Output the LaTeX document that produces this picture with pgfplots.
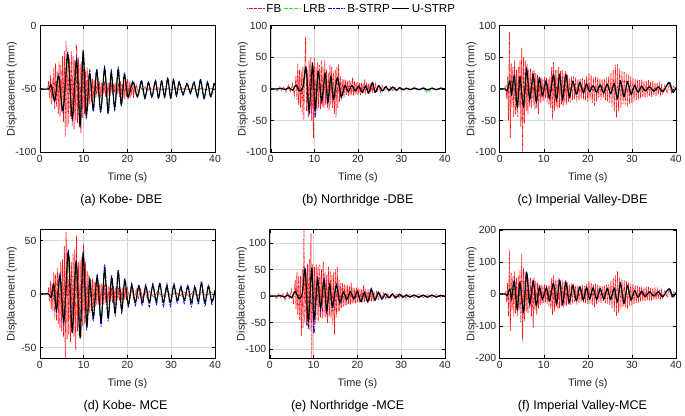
\documentclass[border=0pt]{standalone}
\usepackage{fontspec}
\setmainfont{Liberation Sans}
\usepackage{pgfplots}
\usepackage{pgfplotstable}
\pgfplotsset{compat=1.18}

% ---------- (a) Kobe DBE ----------
\pgfplotstableread{
t U B L
0 -50 -50 -50
2.0 -50 -50 -50
2.6 -47 -46 -47
3.4 -59 -60 -58
4.3 -40 -38 -41
5.3 -67 -69 -65
6.4 -23 -21 -27
7.4 -73 -75 -70
8.4 -27 -25 -30
9.2 -79 -80 -75
9.9 -21 -19 -25
10.6 -71 -73 -68
11.4 -38 -35 -40
12.2 -66 -68 -64
13.0 -36 -34 -39
13.9 -67 -69 -65
14.8 -34 -32 -37
15.6 -68 -70 -66
16.3 -37 -35 -40
17.1 -65 -67 -63
17.9 -35 -33 -38
18.6 -62 -64 -60
19.3 -39 -37 -41
20.1 -56 -57 -55
20.8 -49 -48 -47
21.4 -45 -44 -46
22.3 -56 -57 -55
23.2 -44 -43 -45
24.0 -57 -58 -56
24.8 -45 -44 -46
25.6 -56 -57 -55
26.4 -44 -43 -45
27.1 -57 -58 -56
27.8 -44 -43 -45
28.5 -56 -57 -55
29.2 -42 -41 -44
29.9 -57 -58 -56
30.5 -43 -42 -45
31.2 -55 -56 -54
31.8 -45 -44 -46
32.7 -54 -55 -53
33.6 -46 -45 -47
34.4 -53 -54 -52
35.2 -45 -44 -46
36.0 -56 -57 -55
36.7 -43 -42 -45
37.5 -57 -58 -56
38.3 -45 -44 -46
39.0 -56 -57 -55
39.8 -46 -45 -47
40.0 -47 -46 -48
}\tabAs
\pgfplotstableread{
t F
0 -50
1.0 -50
1.8 -50
2.0 -44
2.2 -57
2.4 -39
2.6 -62
2.8 -42
3.0 -60
3.2 -33
3.4 -66
3.6 -30
3.8 -64
4.0 -36
4.2 -70
4.4 -28
4.6 -72
4.8 -31
5.0 -68
5.2 -24
5.4 -76
5.6 -20
5.8 -88
6.0 -12
6.2 -80
6.4 -22
6.6 -78
6.8 -26
7.0 -72
7.2 -20
7.4 -79
7.6 -24
7.8 -82
8.0 -27
8.2 -75
8.4 -15
8.6 -77
8.8 -25
9.0 -80
9.2 -30
9.4 -85
9.6 -28
9.8 -73
10.0 -32
10.2 -70
10.4 -35
10.6 -66
10.8 -33
11.0 -64
11.2 -38
11.4 -62
11.6 -40
11.8 -60
12.0 -42
12.2 -58
12.4 -43
12.6 -57
12.8 -44
13.0 -56
13.2 -45
13.4 -55
13.6 -44
13.8 -57
14.0 -45
14.2 -55
14.4 -46
14.6 -54
14.8 -44
15.0 -56
15.2 -46
15.4 -54
15.6 -45
15.8 -55
16.0 -46
16.2 -53
16.4 -47
16.6 -54
16.8 -46
17.0 -53
17.2 -45
17.4 -55
17.6 -46
17.8 -54
18.0 -45
18.2 -56
18.4 -44
18.6 -55
18.8 -46
19.0 -57
19.2 -43
19.4 -58
19.6 -44
19.8 -56
20.0 -42
20.2 -58
20.4 -44
20.6 -57
20.8 -45
21.0 -55
21.2 -43
21.4 -57
21.6 -46
21.8 -54
22.0 -47
22.5 -53
23.0 -48
23.5 -52
24.0 -48
24.5 -52
25.0 -49
26 -51
27 -49
28 -51
29 -49.5
30 -50.5
31 -49.5
32 -50.5
33 -49.5
34 -50.5
35 -49.5
36 -50.5
37 -49.5
38 -50.5
39 -49.5
40 -50
}\tabAf

% ---------- (b) Northridge DBE ----------
\pgfplotstableread{
t U B L
0 0 0 0
1.5 0 0 0
2.5 1 1 1
3.3 -1 -1 -1
4.2 2 2 1
5.0 -2 -2 -2
5.8 6 6 5
6.6 -3 -4 -3
7.4 3 4 2
8.1 33 35 28
8.8 -34 -40 -30
9.6 38 40 33
10.2 -32 -43 -28
10.9 27 30 24
11.7 -18 -22 -16
12.5 24 26 21
13.1 -20 -24 -18
13.8 19 21 17
14.4 -15 -18 -13
15.3 17 19 15
16.2 -12 -14 -10
17.0 5 6 4
17.8 -4 -5 -3
18.6 5 6 4
19.4 -3 -4 -3
20.2 4 5 3
21.0 -5 -6 -4
21.8 4 5 4
22.5 -6 -7 -5
23.3 9 10 8
24.0 -5 -6 -4
24.8 5 6 4
25.6 -3 -4 -3
26.4 3 4 3
27.2 -2 -3 -2
28.0 3 3 2
28.8 -2 -2 -2
29.6 2 2 2
30.4 -1 -2 -1
31.2 1 1 1
32.0 -1 -1 -1
33 1 1 1
34 -1 -1 -1
35 1 1 1
36 -1 -2 -6
37 1 1 1
38 -1 -1 -1
39 1 1 1
40 0 0 0
}\tabBs
\pgfplotstableread{
t F
0 0
1.0 1
1.5 -3
2.0 4
2.5 -2
3.0 3
3.5 -5
4.0 6
4.5 -4
5.0 8
5.4 -10
5.8 20
6.0 -18
6.2 40
6.4 -25
6.6 30
6.8 -30
7.0 28
7.2 -40
7.4 35
7.6 -50
7.8 30
8.0 82
8.2 -35
8.4 30
8.6 -45
8.8 45
9.0 -40
9.2 50
9.4 -50
9.6 40
9.8 -78
10.0 50
10.2 -45
10.4 35
10.6 -35
10.8 42
11.0 -30
11.2 38
11.4 -32
11.6 45
11.8 -28
12.0 35
12.2 -30
12.4 45
12.6 -25
12.8 30
13.0 -30
13.2 25
13.4 -35
13.6 38
13.8 -25
14.0 35
14.2 -30
14.4 28
14.6 -40
14.8 30
15.0 -45
15.2 35
15.4 -30
15.6 40
15.8 -20
16.0 20
16.2 -18
16.4 15
16.6 -14
16.8 15
17.0 -12
17.2 14
17.4 -10
17.6 12
17.8 -11
18.0 14
18.2 -10
18.4 12
18.6 -9
18.8 18
19.0 -10
19.2 12
19.4 -8
19.6 10
19.8 -9
20.0 11
20.2 -8
20.4 9
20.6 -10
20.8 10
21.0 -7
21.2 9
21.4 -8
21.6 15
21.8 -9
22.0 10
22.2 -7
22.4 8
22.6 -8
22.8 9
23.0 -6
23.2 10
23.4 -7
23.6 7
23.8 -6
24.0 8
24.4 -5
24.8 6
25.2 -5
25.6 5
26.0 -4
26.5 4
27.0 -4
27.5 3
28.0 -3
28.5 3
29.0 -3
29.5 2
30 -2
31 2
32 -2
33 3
34 -2
35 3
36 -3
37 2
38 -2
39 2
40 0
}\tabBf

% ---------- (c) Imperial Valley DBE ----------
\pgfplotstableread{
t U B L
0 0 0 0
1.2 0 0 0
1.7 -3 -3 -2
2.3 12 13 15
2.7 -8 -10 -12
3.3 20 22 18
4.0 -28 -30 -26
4.6 18 20 16
5.4 -28 -30 -25
6.1 30 33 28
6.8 -16 -18 -14
7.6 22 23 20
8.3 -20 -22 -18
9.0 17 18 15
9.7 -10 -12 -9
10.5 12 13 11
11.3 -14 -15 -12
12.2 22 23 19
12.9 -18 -20 -16
13.6 22 23 20
14.3 -16 -18 -15
15.0 22 24 20
15.8 -12 -14 -11
16.6 12 13 11
17.4 -8 -10 -7
18.2 10 11 9
19.0 -6 -7 -5
19.7 8 9 7
20.4 -4 -5 -4
21.2 5 6 4
22.0 -5 -6 -4
22.8 6 7 5
23.6 -6 -7 -5
24.4 7 8 6
25.2 -7 -8 -6
26.0 8 9 7
26.7 -15 -16 -13
27.4 12 13 11
28.2 -12 -13 -11
29.0 11 12 10
29.8 -8 -9 -7
30.6 5 6 5
31.4 -5 -6 -4
32.2 4 5 4
33.0 -3 -4 -3
34.0 3 4 3
35.0 -3 -4 -3
36.0 3 3 3
37.0 -4 -5 -4
38.0 6 7 6
38.6 10 11 9
39.3 -5 -6 -4
40 2 2 2
}\tabCs
\pgfplotstableread{
t F
0 0
1.0 0
1.4 5
1.6 -15
1.8 20
2.0 -50
2.2 90
2.4 -78
2.6 40
2.8 -30
3.0 35
3.2 -45
3.4 45
3.6 -40
3.8 30
4.0 -45
4.2 35
4.4 -30
4.6 45
4.8 -60
5.0 65
5.2 -100
5.4 50
5.6 -55
5.8 45
6.0 -35
6.2 40
6.4 -40
6.6 30
6.8 -28
7.0 32
7.2 -30
7.4 28
7.6 -25
7.8 30
8.0 -32
8.2 25
8.4 -30
8.6 22
8.8 -40
9.0 20
9.2 -22
9.4 18
9.6 -20
9.8 15
10.0 -18
10.2 20
10.4 -15
10.6 18
10.8 -20
11.0 15
11.2 -25
11.4 20
11.6 -30
11.8 35
12.0 -48
12.2 42
12.4 -35
12.6 30
12.8 -28
13.0 30
13.2 -32
13.4 35
13.6 -30
13.8 28
14.0 -25
14.2 30
14.4 -28
14.6 25
14.8 -22
15.0 28
15.2 -25
15.4 22
15.6 -20
15.8 18
16.0 -22
16.25 20
16.5 -18
16.75 20
17.0 -16
17.25 18
17.5 -20
17.75 15
18.0 -18
18.25 16
18.5 -15
18.75 18
19.0 -16
19.25 15
19.5 -18
19.75 20
20.0 -20
20.25 25
20.5 -18
20.75 22
21.0 -22
21.25 18
21.5 -27
21.75 20
22.0 -20
22.25 18
22.5 -15
22.75 16
23.0 -18
23.25 15
23.5 -14
23.75 16
24.0 -18
24.25 18
24.5 -20
24.75 20
25.0 -22
25.25 25
25.5 -28
25.75 30
26.0 -35
26.25 38
26.5 -45
26.75 40
27.0 -35
27.25 32
27.5 -30
27.75 28
28.0 -25
28.25 27
28.5 -26
28.75 25
29.0 -28
29.25 22
29.5 -24
29.75 20
30.0 -22
30.25 18
30.5 -20
30.75 16
31.0 -18
31.25 15
31.5 -16
31.75 14
32.0 -15
32.25 15
32.5 -13
32.75 12
33.0 -14
33.25 13
33.5 -12
33.75 14
34.0 -12
34.25 11
34.5 -13
34.75 12
35.0 -10
35.25 10
35.5 -11
35.75 9
36.0 -9
36.25 8
36.5 -8
36.75 7
37.0 -7
37.5 6
38.0 -6
38.5 8
39.0 -6
39.5 5
40.0 -2
}\tabCf

% ---------- (d) Kobe MCE ----------
\pgfplotstableread{
t U B L
0 0 0 0
2.0 0 0 0
2.6 -3 -3 -3
3.2 9 10 8
3.8 -15 -17 -13
4.6 17 19 15
5.5 -25 -28 -22
6.5 38 42 30
7.4 -35 -37 -30
8.3 30 32 26
9.2 -40 -42 -35
9.9 38 40 32
10.7 -30 -33 -26
11.4 12 14 15
12.2 -22 -25 -22
13.1 16 18 14
14.0 -25 -30 -22
14.8 23 28 20
15.6 -22 -25 -19
16.4 15 18 13
17.2 -18 -20 -16
17.9 20 23 17
18.7 -15 -18 -13
19.4 13 15 11
20.2 -10 -12 -9
21.0 8 10 7
21.8 -8 -11 -7
22.6 7 9 6
23.4 -8 -11 -7
24.2 7 9 6
25.0 -8 -12 -7
25.8 8 10 7
26.6 -7 -10 -6
27.4 9 11 8
28.2 -8 -12 -7
29.0 7 10 6
29.8 -8 -12 -7
30.6 8 10 7
31.4 -6 -9 -5
32.2 6 8 5
33.0 -6 -9 -5
33.8 7 9 6
34.6 -8 -12 -7
35.4 6 8 5
36.2 -7 -10 -6
36.9 10 12 8
37.7 -8 -11 -7
38.5 7 9 6
39.3 -7 -10 -6
40 3 4 3
}\tabDs
\pgfplotstableread{
t F
0 0
1.8 0
2.0 6
2.2 -8
2.4 12
2.6 -14
2.8 10
3.0 -16
3.2 20
3.4 -22
3.6 18
3.8 -25
4.0 24
4.2 -28
4.4 20
4.6 -32
4.8 30
5.0 -35
5.2 32
5.4 -40
5.6 45
5.8 -60
6.0 58
6.2 -42
6.4 40
6.6 -38
6.8 35
7.0 -45
7.2 30
7.4 -35
7.6 38
7.8 -40
8.0 42
8.2 -52
8.4 55
8.6 -35
8.8 30
9.0 -38
9.2 32
9.4 -40
9.6 35
9.8 -30
10.0 47
10.2 -28
10.4 30
10.6 -25
10.8 22
11.0 -20
11.2 18
11.4 -18
11.6 15
11.8 -16
12.0 14
12.2 -13
12.4 12
12.6 -12
12.8 11
13.0 -10
13.2 12
13.4 -10
13.6 9
13.8 -11
14.0 10
14.2 -9
14.4 8
14.6 -10
14.8 9
15.0 -8
15.2 8
15.4 -9
15.6 7
15.8 -8
16.0 7
16.2 -7
16.4 6
16.6 -8
16.8 7
17.0 -6
17.2 6
17.4 -7
17.6 6
17.8 -6
18.0 7
18.2 -6
18.4 5
18.6 -6
18.8 6
19.0 -7
19.2 5
19.4 -5
19.6 6
19.8 -6
20.0 5
20.5 -5
21.0 5
21.5 -6
22.0 4
22.5 -5
23.0 4
23.5 -4
24.0 4
24.5 -4
25.0 3
26 -3
27 3
28 -3
29 3
30 -2
31 2
32 -2
33 2
34 -2
35 2
36 -2
37 2
38 -2
39 2
40 0
}\tabDf

% ---------- (e) Northridge MCE ----------
\pgfplotstableread{
t U B L
0 0 0 0
1.5 0 0 0
2.5 1 1 1
3.3 -2 -2 -1
4.2 2 3 2
5.0 -3 -3 -2
5.8 9 9 7
6.6 -4 -5 -4
7.4 4 5 3
8.1 50 52 42
8.8 -48 -62 -40
9.6 52 54 45
10.1 -45 -70 -40
10.9 32 36 28
11.6 -22 -28 -20
12.4 30 33 26
13.0 -28 -32 -24
13.7 22 25 20
14.3 -20 -24 -17
15.2 20 23 18
16.0 -12 -15 -10
16.8 7 8 6
17.6 -6 -8 -5
18.4 8 9 7
19.2 -5 -7 -4
20.0 8 10 6
20.8 -10 -12 -8
21.6 6 8 5
22.4 -10 -12 -8
23.2 12 15 10
24.0 -7 -9 -6
24.8 6 8 5
25.6 -5 -6 -4
26.4 4 5 3
27.2 -3 -4 -3
28.0 4 5 3
28.8 -3 -4 -3
29.6 3 4 3
30.4 -2 -3 -2
31.2 2 3 2
32.0 -2 -2 -2
33 2 3 2
34 -2 -3 -2
35 2 2 2
36 -2 -3 -2
37 2 2 2
38 -2 -2 -2
39 1 2 1
40 0 0 0
}\tabEs
\pgfplotstableread{
t F
0 0
1.0 2
1.5 -4
2.0 5
2.5 -3
3.0 5
3.5 -7
4.0 8
4.5 -6
5.0 12
5.4 -15
5.8 30
6.0 -25
6.2 45
6.4 -35
6.6 40
6.8 -45
7.0 38
7.2 -75
7.4 50
7.6 -60
7.8 125
8.0 -50
8.2 45
8.4 -55
8.6 60
8.8 -50
9.0 70
9.2 -65
9.4 118
9.6 -117
9.8 60
10.0 -70
10.2 55
10.4 -50
10.6 60
10.8 -45
11.0 55
11.2 -48
11.4 60
11.6 -40
11.8 50
12.0 -42
12.2 65
12.4 -38
12.6 45
12.8 -40
13.0 40
13.2 -50
13.4 55
13.6 -38
13.8 48
14.0 -42
14.2 40
14.4 -55
14.6 45
14.8 -72
15.0 50
15.2 -40
15.4 55
15.6 -30
15.8 30
16.0 -28
16.2 25
16.4 -22
16.6 24
16.8 -20
17.0 22
17.2 -18
17.4 20
17.6 -17
17.8 21
18.0 -15
18.2 18
18.4 -16
18.6 25
18.8 -14
19.0 16
19.2 -13
19.4 15
19.6 -14
19.8 16
20.0 -12
20.2 14
20.4 -13
20.6 14
20.8 -11
21.0 13
21.2 -12
21.4 20
21.6 -12
21.8 14
22.0 -10
22.2 12
22.4 -11
22.6 12
22.8 -9
23.0 13
23.2 -10
23.4 11
23.6 -9
23.8 10
24.0 -8
24.4 8
24.8 -7
25.2 7
25.6 -6
26.0 6
26.5 -5
27.0 5
27.5 -4
28.0 4
28.5 -4
29.0 4
29.5 -3
30 3
31 -3
32 3
33 -3
34 4
35 -3
36 3
37 -3
38 3
39 -2
40 0
}\tabEf

% ---------- (f) Imperial Valley MCE ----------
\pgfplotstableread{
t U B L
0 0 0 0
1.2 0 0 0
1.7 -5 -5 -4
2.3 15 17 20
2.7 -15 -18 -20
3.3 40 45 35
4.0 -48 -52 -45
4.6 35 38 30
5.4 -55 -60 -50
6.1 65 70 60
6.8 -30 -35 -28
7.6 38 42 34
8.3 -35 -38 -32
9.0 20 22 18
9.7 -15 -18 -13
10.6 18 20 16
11.3 -20 -22 -18
12.2 32 35 28
12.9 -30 -33 -27
13.6 40 43 36
14.3 -30 -33 -27
15.0 36 39 32
15.8 -25 -28 -22
16.6 26 28 23
17.4 -20 -23 -18
18.2 22 24 20
19.0 -18 -20 -16
19.7 20 22 18
20.4 -15 -18 -13
21.2 18 20 16
22.0 -16 -19 -14
22.8 16 18 14
23.6 -15 -18 -13
24.4 16 18 14
25.2 -15 -18 -13
26.0 18 20 16
26.7 -25 -28 -22
27.4 32 35 28
28.2 -28 -30 -25
29.0 25 27 22
29.8 -18 -20 -16
30.6 10 12 9
31.4 -10 -12 -9
32.2 8 10 7
33.0 -8 -10 -7
34.0 6 8 5
35.0 -6 -8 -5
36.0 6 7 5
37.0 -8 -10 -7
38.0 10 12 9
38.6 15 17 13
39.3 -8 -10 -7
40 4 5 4
}\tabFs
\pgfplotstableread{
t F
0 0
1.0 0
1.4 8
1.6 -25
1.8 35
2.0 -70
2.2 135
2.4 -115
2.6 65
2.8 -50
3.0 55
3.2 -70
3.4 70
3.6 -60
3.8 50
4.0 -70
4.2 55
4.4 -50
4.6 75
4.8 -90
5.0 125
5.2 -145
5.4 80
5.6 -85
5.8 70
6.0 -55
6.2 65
6.4 -60
6.6 50
6.8 -45
7.0 50
7.2 -70
7.4 45
7.6 -105
7.8 50
8.0 -50
8.2 40
8.4 -65
8.6 35
8.8 -45
9.0 30
9.2 -35
9.4 28
9.6 -30
9.8 25
10.0 -28
10.2 30
10.4 -25
10.6 28
10.8 -30
11.0 25
11.2 -38
11.4 30
11.6 -45
11.8 50
12.0 -65
12.2 60
12.4 -55
12.6 45
12.8 -42
13.0 45
13.2 -48
13.4 52
13.6 -45
13.8 42
14.0 -38
14.2 45
14.4 -42
14.6 38
14.8 -35
15.0 42
15.2 -38
15.4 35
15.6 -32
15.8 30
16.0 -35
16.25 32
16.5 -30
16.75 32
17.0 -26
17.25 28
17.5 -32
17.75 25
18.0 -28
18.25 26
18.5 -24
18.75 28
19.0 -26
19.25 25
19.5 -28
19.75 32
20.0 -32
20.25 40
20.5 -30
20.75 35
21.0 -35
21.25 30
21.5 -42
21.75 32
22.0 -32
22.25 28
22.5 -25
22.75 26
23.0 -28
23.25 24
23.5 -22
23.75 26
24.0 -28
24.25 28
24.5 -30
24.75 32
25.0 -35
25.25 40
25.5 -45
25.75 50
26.0 -55
26.25 60
26.5 -68
26.75 70
27.0 -60
27.25 52
27.5 -48
27.75 45
28.0 -40
28.25 42
28.5 -42
28.75 40
29.0 -45
29.25 35
29.5 -38
29.75 32
30.0 -35
30.25 30
30.5 -32
30.75 26
31.0 -28
31.25 25
31.5 -26
31.75 22
32.0 -24
32.25 24
32.5 -22
32.75 20
33.0 -22
33.25 21
33.5 -20
33.75 22
34.0 -20
34.25 18
34.5 -21
34.75 20
35.0 -17
35.25 16
35.5 -18
35.75 15
36.0 -15
36.25 13
36.5 -13
36.75 12
37.0 -12
37.5 10
38.0 -10
38.5 14
39.0 -10
39.5 8
40.0 -3
}\tabFf

\pgfplotsset{
  panel/.style={
    scale only axis,
    xmin=0, xmax=40,
    xtick={0,10,20,30,40},
    grid=major,
    major grid style={black!16, line width=0.5pt},
    tick align=inside,
    major tick length=3bp,
    tick style={black, line width=0.5pt},
    axis line style={black, line width=0.6pt},
    ticklabel style={font=\fontsize{10.5}{12}\selectfont, text=black!85},
    /pgf/number format/assume math mode=true,
    xlabel={Time (s)},
    ylabel={Displacement (mm)},
    label style={font=\fontsize{11}{13}\selectfont, text=black!85},
    xlabel style={at={(axis description cs:0.5,-0.205)}, anchor=center},
    ylabel style={at={(axis description cs:-0.16,0.5)}, anchor=center},
    title style={font=\fontsize{12.7}{14}\selectfont, anchor=center},
  },
  fb/.style={red, line width=0.7pt, dash pattern=on 0.7pt off 0.6pt},
  lrb/.style={green, line width=0.8pt, dash pattern=on 3.5pt off 2pt},
  bs/.style={blue, line width=0.8pt, dash pattern=on 4pt off 1.5pt on 1pt off 1.5pt},
  us/.style={black, line width=1.1pt},
}

\begin{document}
\begin{tikzpicture}
\path (0,0) rectangle (685bp,-414bp);

% (a)
\begin{axis}[panel, at={(40bp,-151bp)}, width=176bp, height=127bp,
  ymin=-100, ymax=0, ytick={-100,-50,0},
  title={(a) Kobe- DBE}, title style={at={(axis description cs:0.465,-0.43)}}]
\addplot[fb] table[x=t,y=F] {\tabAf};
\addplot[lrb, smooth] table[x=t,y=L] {\tabAs};
\addplot[bs, smooth] table[x=t,y=B] {\tabAs};
\addplot[us, smooth] table[x=t,y=U] {\tabAs};
\end{axis}

% (b)
\begin{axis}[panel, at={(272bp,-151bp)}, width=175bp, height=127bp,
  ymin=-100, ymax=100, ytick={-100,-50,0,50,100},
  title={(b) Northridge -DBE}, title style={at={(axis description cs:0.5,-0.43)}},
  legend columns=4,
  legend style={at={(axis description cs:0.466,1.134)}, anchor=center, draw=none,
    font=\fontsize{11.7}{13}\selectfont}]
\addplot[fb] table[x=t,y=F] {\tabBf};
\addlegendentry{FB}
\addplot[lrb, smooth] table[x=t,y=L] {\tabBs};
\addlegendentry{LRB}
\addplot[bs, smooth] table[x=t,y=B] {\tabBs};
\addlegendentry{B-STRP}
\addplot[us, smooth] table[x=t,y=U] {\tabBs};
\addlegendentry{U-STRP}
\end{axis}

% (c)
\begin{axis}[panel, at={(502bp,-151bp)}, width=177bp, height=127bp,
  ymin=-100, ymax=100, ytick={-100,-50,0,50,100},
  title={(c) Imperial Valley-DBE}, title style={at={(axis description cs:0.47,-0.43)}}]
\addplot[fb] table[x=t,y=F] {\tabCf};
\addplot[lrb, smooth] table[x=t,y=L] {\tabCs};
\addplot[bs, smooth] table[x=t,y=B] {\tabCs};
\addplot[us, smooth] table[x=t,y=U] {\tabCs};
\end{axis}

% (d)
\begin{axis}[panel, at={(40bp,-358bp)}, width=176bp, height=129bp,
  ymin=-60, ymax=60, ytick={-50,0,50},
  xlabel style={at={(axis description cs:0.5,-0.2)}},
  title={(d) Kobe- MCE}, title style={at={(axis description cs:0.49,-0.42)}}]
\addplot[fb] table[x=t,y=F] {\tabDf};
\addplot[lrb, smooth] table[x=t,y=L] {\tabDs};
\addplot[bs, smooth] table[x=t,y=B] {\tabDs};
\addplot[us, smooth] table[x=t,y=U] {\tabDs};
\end{axis}

% (e)
\begin{axis}[panel, at={(271bp,-358bp)}, width=176bp, height=129bp,
  ymin=-117, ymax=125, ytick={-100,-50,0,50,100},
  xlabel style={at={(axis description cs:0.5,-0.2)}},
  title={(e) Northridge -MCE}, title style={at={(axis description cs:0.445,-0.42)}}]
\addplot[fb] table[x=t,y=F] {\tabEf};
\addplot[lrb, smooth] table[x=t,y=L] {\tabEs};
\addplot[bs, smooth] table[x=t,y=B] {\tabEs};
\addplot[us, smooth] table[x=t,y=U] {\tabEs};
\end{axis}

% (f)
\begin{axis}[panel, at={(502bp,-358bp)}, width=177bp, height=129bp,
  ymin=-200, ymax=200, ytick={-200,-100,0,100,200},
  xlabel style={at={(axis description cs:0.5,-0.2)}},
  title={(f) Imperial Valley-MCE}, title style={at={(axis description cs:0.47,-0.42)}}]
\addplot[fb] table[x=t,y=F] {\tabFf};
\addplot[lrb, smooth] table[x=t,y=L] {\tabFs};
\addplot[bs, smooth] table[x=t,y=B] {\tabFs};
\addplot[us, smooth] table[x=t,y=U] {\tabFs};
\end{axis}
\end{tikzpicture}
\end{document}
